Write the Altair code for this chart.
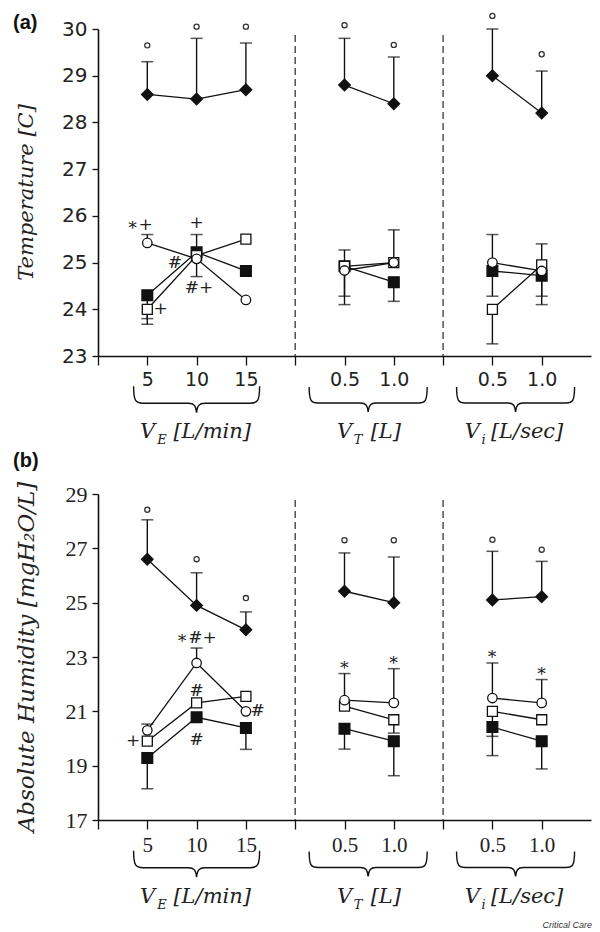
import altair as alt
import pandas as pd

# ---------------- shared x layout ----------------
x_pos = [1, 2, 3, 5, 6, 8, 9]           # 5,10,15 | 0.5,1.0 | 0.5,1.0
x_group = [0, 0, 0, 1, 1, 2, 2]
tick_values = [0, 1, 2, 3, 4, 5, 6, 7, 8, 9]
tick_text = ["", "5", "10", "15", "", "0.5", "1.0", "", "0.5", "1.0"]
divider_x = [4, 7]
brace_x = [2.0, 5.48, 8.47]
brace_w = [126, 118, 118]
label_main = ["V", "V", "V"]
label_sub = ["E", "T", "i"]
label_rest = ["[L/min]", "[L]", "[L/sec]"]
label_main_x = [0.85, 4.85, 7.44]
label_sub_x = [1.20, 5.19, 7.78]
label_rest_x = [1.53, 5.53, 7.97]
series_names = ["filled diamond", "filled square", "open square", "open circle"]

# ---------------- panel (a): temperature ----------------
a_diamond = [28.6, 28.5, 28.7, 28.8, 28.4, 29.0, 28.2]
a_fsq = [24.3, 25.22, 24.82, 24.92, 24.58, 24.82, 24.72]
a_osq = [24.0, 25.15, 25.5, 24.92, 25.0, 24.0, 24.95]
a_oci = [25.42, 25.08, 24.2, 24.83, 25.0, 25.0, 24.82]
a_diamond_end = [29.3, 29.8, 29.7, 29.8, 29.4, 30.0, 29.1]
a_sig = [29.65, 30.05, 30.05, 30.08, 29.66, 30.28, 29.46]
a_err_x = [1, 1, 1, 2, 2, 5, 5, 5, 6, 6, 8, 8, 8, 9, 9, 9]
a_err_y = [25.42, 24.3, 24.0, 25.22, 25.15, 24.92, 24.83, 24.92, 25.0, 24.58,
           25.0, 24.82, 24.0, 24.95, 24.72, 24.82]
a_err_end = [25.6, 23.8, 23.68, 25.6, 24.7, 25.27, 24.28, 24.1, 25.7, 24.17,
             25.6, 24.28, 23.26, 25.4, 24.28, 24.1]
a_ann_x = [0.85, 2.0, 1.56, 2.05, 1.27]
a_ann_y = [25.81, 25.85, 25.0, 24.45, 24.0]
a_ann_t = ["\u2217+", "+", "#", "#+", "+"]
a_yticks = [23, 24, 25, 26, 27, 28, 29, 30]

# ---------------- panel (b): absolute humidity ----------------
b_diamond = [26.6, 24.9, 24.0, 25.42, 25.0, 25.1, 25.22]
b_fsq = [19.28, 20.78, 20.39, 20.36, 19.9, 20.42, 19.9]
b_osq = [19.9, 21.31, 21.55, 21.19, 20.69, 21.0, 20.69]
b_oci = [20.3, 22.78, 21.0, 21.41, 21.31, 21.49, 21.31]
b_diamond_end = [28.05, 26.1, 24.66, 26.83, 26.68, 26.89, 26.52]
b_sig = [28.42, 26.6, 25.17, 27.3, 27.3, 27.32, 26.95]
b_err_x = [1, 1, 2, 3, 5, 5, 6, 6, 6, 8, 8, 8, 9, 9]
b_err_y = [20.3, 19.28, 22.78, 20.39, 21.41, 20.36, 21.31, 19.9, 20.69,
           21.49, 20.42, 21.0, 21.31, 19.9]
b_err_end = [20.53, 18.15, 23.33, 19.6, 22.39, 19.61, 22.57, 18.63, 20.2,
             22.78, 19.37, 20.08, 22.17, 18.88]
b_ann_x = [2.0, 2.0, 2.0, 3.24, 0.71, 5, 6, 8, 9]
b_ann_y = [23.7, 21.75, 19.96, 21.0, 19.9, 22.72, 22.9, 23.11, 22.47]
b_ann_t = ["\u2217#+", "#", "#", "#", "+", "\u2217", "\u2217", "\u2217", "\u2217"]
b_yticks = [17, 19, 21, 23, 25, 27, 29]

BRACE = ("M -1 -0.21 C -1 0.02 -0.97 0.06 -0.85 0.06 L -0.13 0.06 "
         "C -0.04 0.06 -0.01 0.1 0 0.21 C 0.01 0.1 0.04 0.06 0.13 0.06 "
         "L 0.85 0.06 C 0.97 0.06 1 0.02 1 -0.21")

W = 493
INK = "#111111"
label_expr = "[" + ",".join("'%s'" % t for t in tick_text) + "][datum.value]"


def panel(tag, h, ydom, yticks, vals, d_end, sig, ex, ey, ee, ax, ay, at,
          ytitle, ytitle_size, ylab_font, ylab_size, xlab_font, xlab_size,
          tag_dy, lab_pad, brace_off, lab_base, extra=None):
    xs = alt.Scale(domain=[0, 10], nice=False, zero=False)
    ys = alt.Scale(domain=ydom, nice=False, zero=False)
    xaxis = alt.Axis(values=tick_values, labelExpr=label_expr, tickSize=9,
                     tickWidth=1.3, domainWidth=1.6, domainColor=INK,
                     tickColor=INK, labelFont=xlab_font,
                     labelFontSize=xlab_size, labelColor="#222",
                     labelPadding=lab_pad, title=None, grid=False,
                     labelOverlap=False, labelFlush=False)
    yaxis = alt.Axis(values=yticks, tickSize=6, tickWidth=1.3,
                     domainWidth=1.6, domainColor=INK, tickColor=INK,
                     labelFont=ylab_font, labelFontSize=ylab_size,
                     labelColor="#222", labelPadding=5, title=None,
                     grid=False)

    def X(f="x"):
        return alt.X(f + ":Q", scale=xs, axis=xaxis)

    def Y(f="y"):
        return alt.Y(f + ":Q", scale=ys, axis=yaxis)

    rows = []
    for name, v in zip(series_names, vals):
        for xp, g, yv in zip(x_pos, x_group, v):
            rows.append({"x": xp, "y": yv, "series": name, "group": g})
    long_df = pd.DataFrame(rows)

    err_df = pd.DataFrame({"x": x_pos + ex, "y": vals[0] + ey, "e": d_end + ee})
    sig_df = pd.DataFrame({"x": x_pos, "y": sig})
    ann_df = pd.DataFrame({"x": ax, "y": ay, "t": at})

    layers = []
    layers.append(alt.Chart(pd.DataFrame({"x": divider_x})).mark_rule(
        color="#444", strokeDash=[7, 4], strokeWidth=1.4).encode(
        x=X(), y=alt.value(6), y2=alt.value(h)))
    layers.append(alt.Chart(err_df).mark_rule(color=INK, strokeWidth=1.4)
                  .encode(x=X(), y=Y(), y2="e:Q"))
    layers.append(alt.Chart(err_df).mark_tick(
        color=INK, orient="horizontal", size=12, thickness=1.5)
        .encode(x=X(), y=Y("e")))
    layers.append(alt.Chart(long_df).mark_line(color=INK, strokeWidth=1.3)
                  .encode(x=X(), y=Y(), detail=["series:N", "group:N"]))
    styles = {
        "filled diamond": dict(shape="diamond", fill=INK, size=135),
        "filled square": dict(shape="square", fill=INK, size=115),
        "open square": dict(shape="square", fill="white", size=100),
        "open circle": dict(shape="circle", fill="white", size=90),
    }
    for name in series_names:
        st = styles[name]
        layers.append(alt.Chart(long_df).transform_filter(
            alt.datum.series == name).mark_point(
            shape=st["shape"], filled=True, fill=st["fill"], stroke=INK,
            strokeWidth=1.3, size=st["size"], opacity=1)
            .encode(x=X(), y=Y()))
    layers.append(alt.Chart(sig_df).mark_point(
        shape="circle", size=26, filled=False, stroke="#333",
        strokeWidth=1.3, opacity=1).encode(x=X(), y=Y()))
    layers.append(alt.Chart(ann_df).mark_text(
        font="DejaVu Serif", fontSize=17, color="#222", baseline="middle",
        align="center").encode(x=X(), y=Y(), text="t:N"))
    for bx, bw in zip(brace_x, brace_w):
        layers.append(alt.Chart(pd.DataFrame({"x": [bx]})).mark_point(
            shape=BRACE, filled=False, stroke=INK, strokeWidth=1.4,
            size=bw * bw, opacity=1).encode(x=X(), y=alt.value(h + brace_off)))
    lab_df = pd.DataFrame({"m": label_main, "s": label_sub, "r": label_rest,
                           "mx": label_main_x, "sx": label_sub_x,
                           "rx": label_rest_x})
    common = dict(font="DejaVu Serif", fontStyle="italic", color="#222",
                  align="left", baseline="alphabetic")
    layers.append(alt.Chart(lab_df).mark_text(fontSize=21, **common).encode(
        x=X("mx"), y=alt.value(h + lab_base), text="m:N"))
    layers.append(alt.Chart(lab_df).mark_text(fontSize=13, **common).encode(
        x=X("sx"), y=alt.value(h + lab_base + 6), text="s:N"))
    layers.append(alt.Chart(lab_df).mark_text(fontSize=21, **common).encode(
        x=X("rx"), y=alt.value(h + lab_base), text="r:N"))
    layers.append(alt.Chart(pd.DataFrame({"t": [tag]})).mark_text(
        font="Liberation Sans", fontWeight="bold", fontSize=20, color="#111",
        align="left", baseline="top").encode(
        x=alt.value(-85), y=alt.value(tag_dy), text="t:N"))
    layers.append(alt.Chart(pd.DataFrame({"t": [ytitle]})).mark_text(
        font="DejaVu Serif", fontStyle="italic", fontSize=ytitle_size,
        color="#222", angle=270, align="center", baseline="middle").encode(
        x=alt.value(-71), y=alt.value(h / 2), text="t:N"))
    if extra:
        layers.append(alt.Chart(pd.DataFrame({"t": [extra]})).mark_text(
            font="Liberation Sans", fontStyle="italic", fontSize=9,
            color="#333", align="right", baseline="middle").encode(
            x=alt.value(W + 1), y=alt.value(h + 105), text="t:N"))
    return alt.layer(*layers).properties(width=W, height=h)


pa = panel("(a)", 327, [23, 30], a_yticks,
           [a_diamond, a_fsq, a_osq, a_oci], a_diamond_end, a_sig,
           a_err_x, a_err_y, a_err_end, a_ann_x, a_ann_y, a_ann_t,
           "Temperature [C]", 21, "DejaVu Sans", 20, "DejaVu Sans", 19, -16,
           5, 43.5, 82)
pb = panel("(b)", 326, [17, 29], b_yticks,
           [b_diamond, b_fsq, b_osq, b_oci], b_diamond_end, b_sig,
           b_err_x, b_err_y, b_err_end, b_ann_x, b_ann_y, b_ann_t,
           "Absolute Humidity [mgH\u2082O/L]", 23, "Liberation Serif", 22,
           "Liberation Serif", 21, -43, 5, 44, 83, extra="Critical Care")

chart = alt.vconcat(pa, pb, spacing=138, bounds="flush").properties(
    padding={"left": 5, "top": 2, "right": 0, "bottom": 0}
).configure_view(stroke=None)

chart.save("out.html", embed_options={"renderer": "svg", "actions": False})
